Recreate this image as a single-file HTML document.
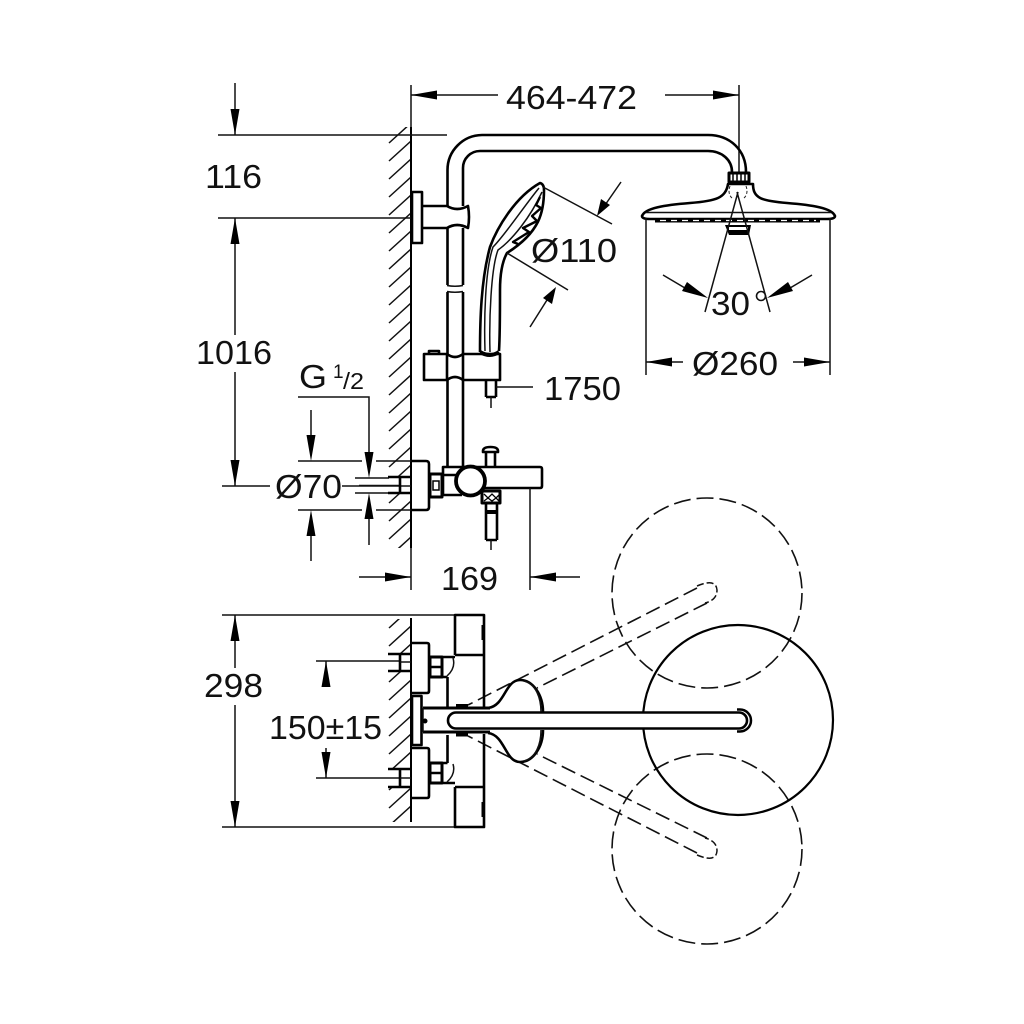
<!DOCTYPE html>
<html><head><meta charset="utf-8"><style>
html,body{margin:0;padding:0;background:#fff}
svg{display:block}
text{font-family:"Liberation Sans",sans-serif;font-size:33px;fill:#111}
.k{fill:none;stroke:#000;stroke-width:2.6;stroke-linejoin:round}
.t{fill:none;stroke:#111;stroke-width:1.5}
.d{fill:none;stroke:#111;stroke-width:1.6;stroke-dasharray:15 6}
.c{fill:none;stroke:#111;stroke-width:1.6;stroke-dasharray:17 6}
.w{fill:#fff;stroke:#000;stroke-width:2.6;stroke-linejoin:round}
.a{fill:#000;stroke:none}
</style></head><body>
<svg width="1024" height="1024" viewBox="0 0 1024 1024" xmlns="http://www.w3.org/2000/svg">
<defs>
<clipPath id="c1"><rect x="385" y="127" width="26" height="421"/></clipPath>
<clipPath id="c2"><rect x="385" y="619" width="26" height="203"/></clipPath>
</defs>
<rect width="1024" height="1024" fill="#fff"/>

<!-- wall hatching -->
<path class="t" clip-path="url(#c1)" d="M389 143l22-20M389 161l22-20M389 179l22-20M389 197l22-20M389 215l22-20M389 233l22-20M389 251l22-20M389 269l22-20M389 287l22-20M389 305l22-20M389 323l22-20M389 341l22-20M389 359l22-20M389 377l22-20M389 395l22-20M389 413l22-20M389 431l22-20M389 449l22-20M389 467l22-20M389 485l22-20M389 503l22-20M389 521l22-20M389 539l22-20M389 557l22-20"/>
<path class="t" clip-path="url(#c2)" d="M389 628l22-20M389 646l22-20M389 664l22-20M389 682l22-20M389 700l22-20M389 718l22-20M389 736l22-20M389 754l22-20M389 772l22-20M389 790l22-20M389 808l22-20M389 826l22-20"/>
<rect x="388" y="477" width="23" height="17" fill="#fff"/>
<rect x="388" y="654" width="23" height="17" fill="#fff"/>
<rect x="388" y="769" width="23" height="18" fill="#fff"/>
<path class="k" d="M411 127V548M411 618V822" style="stroke-width:2"/>

<!-- top dims -->
<path class="t" d="M411 85V127M739 85V172M411 95H498M665 95H739"/>
<path class="a" d="M411 95l26-4.500v9zM739 95l-26-4.500v9z"/>
<text x="506" y="109" textLength="131" lengthAdjust="spacingAndGlyphs">464-472</text>

<!-- left dims -->
<path class="t" d="M218 135H447M218 218H411M235 83V135M235 218V335M235 372V486M222 486H270M342 486H411"/>
<path class="a" d="M235 135l-4.500-26h9zM235 218l-4.500 26h9zM235 486l-4.500-26h9z"/>
<text x="205" y="188" textLength="57" lengthAdjust="spacingAndGlyphs">116</text>
<text x="196" y="364" textLength="76" lengthAdjust="spacingAndGlyphs">1016</text>

<!-- riser pipe + arm -->
<path class="k" d="M447.500 206V170A35 35 0 0 1 482 135H708C730 135 746 150 746 172M463 206V168A17 17 0 0 1 480 151H708C722 151 732 160 732 172"/>
<path class="k" d="M447.500 228V285M463 228V285M447.500 292V354M463 292V354M447.500 380V466M463 380V466"/>
<path class="t" d="M447 285.500Q455 287 463 285.500M447 291.500Q455 293 463 291.500"/>

<!-- wall bracket -->
<rect class="k" x="412" y="192" width="10" height="51"/>
<path class="k" d="M422 206H447Q457 212 468 206Q470 217 468 228Q457 222 447 228H422"/>

<!-- hand shower -->
<path class="k" d="M480 352C480 320 481 280 490 247C497 228 515 197 540 183Q544 184 544 190C544 212 540 232 507 253C502 262 500 275 500 290C500 315 500 335 499 351"/>
<path class="t" d="M485 351C484 320 485 270 493 247C505 235 525 205 539 188M490 352C489 320 491 268 498 250C512 240 530 218 542 192"/>
<path class="k" d="M540 197L536 205L541 208L532 216L537 221L523 228L529 232L513 242L518 244" style="stroke-width:2.400"/>
<path class="k" d="M480 352Q490 358 499 352" style="stroke-width:4"/>

<!-- Ø110 -->
<path class="t" d="M543 187L612 224M507 253L568 290M621 182L603 208M530 327L547 300"/>
<path class="a" d="M597 216l4-17 9 6zM556 287l-4 17-9-6z"/>
<text x="531" y="262" textLength="86" lengthAdjust="spacingAndGlyphs">Ø110</text>

<!-- slider -->
<path class="k" d="M424 354H447Q455 360 463 354H500V380H463Q455 374 447 380H424Z"/>
<path class="k" d="M447 354V380M463 354V380M429 354V351H439V354"/>
<path class="k" d="M486 380V397M496 380V397M486 397H496"/>
<path class="t" d="M491 397V408M496 387H533"/>
<text x="544" y="400" textLength="77" lengthAdjust="spacingAndGlyphs">1750</text>

<!-- shower head -->
<path class="k" d="M729 173H749V182H729Z" style="stroke-width:3"/>
<path d="M733 174V181M737 174V181M741 174V181M745 174V181" stroke="#000" stroke-width="1.500" fill="none"/>
<path class="k" d="M728 184C726 198 716 201 690 203C665 205 645 208 642 216Q642 219 650 219H827Q835 219 835 216C832 208 812 205 787 203C761 201 753 198 753 184Z"/>
<path class="t" d="M646 212.500H831"/>
<path d="M655 220.500H820" fill="none" stroke="#000" stroke-width="4"/>
<path d="M660 220.500H816" fill="none" stroke="#fff" stroke-width="1.300" stroke-dasharray="6 5"/>
<path class="a" d="M725 225H751L749 235H729Z"/>
<rect x="729" y="227" width="19" height="3" fill="#fff"/>
<path class="t" d="M738 192L705 312M737 192L770 312M663 275L690 291M812 275L785 291"/>
<path d="M730 186Q727 194 733 199M746 186Q749 194 743 199" fill="none" stroke="#222" stroke-width="1" stroke-dasharray="3 2"/>
<path class="a" d="M708 298l-26-7 5-9zM767 298l26-7-5-9z"/>
<text x="711" y="315" textLength="39" lengthAdjust="spacingAndGlyphs">30</text>
<circle cx="761" cy="296" r="4.500" fill="none" stroke="#111" stroke-width="1.600"/>

<!-- Ø260 -->
<path class="t" d="M646 218V375M830 218V375M646 362H683M793 362H830"/>
<path class="a" d="M646 362l26-4.500v9zM830 362l-26-4.500v9z"/>
<text x="692" y="375" textLength="86" lengthAdjust="spacingAndGlyphs">Ø260</text>

<!-- G 1/2 -->
<text x="299" y="388" textLength="28" lengthAdjust="spacingAndGlyphs">G</text>
<text x="333" y="378" style="font-size:19px">1</text>
<text x="343" y="389" style="font-size:23px" textLength="21" lengthAdjust="spacingAndGlyphs">/2</text>
<path class="t" d="M298 397H369V453M369 518V545M298 461H362M376 461H411M298 510H362M376 510H411M311 410V436M311 535V561M355 478H389M355 493H389M359 485.500H400"/>
<path class="a" d="M369 478l-4.500-26h9zM369 493l-4.500 26h9zM311 461l-4.500-26h9zM311 510l-4.500 26h9z"/>
<text x="275" y="498" textLength="67" lengthAdjust="spacingAndGlyphs">Ø70</text>

<!-- stub & mixer elevation -->
<path class="k" d="M388 477H411M388 493H411M400 477V493"/>
<path class="k" d="M411 461H426Q429 461 429 464V507Q429 510 426 510H411"/>
<path class="k" d="M430 474H442V497H430Z" style="stroke-width:3"/>
<rect x="433" y="481" width="6" height="9" fill="#fff" stroke="#000" stroke-width="1.500"/>
<path class="k" d="M443 475V467H540Q542 467 542 469V486Q542 488 540 488H484M443 475H456M443 495H462M443 475V495"/>
<circle class="w" cx="470.500" cy="481" r="14.500" style="stroke-width:3.800"/>
<path class="k" d="M486 452V467M495 452V467M483 451Q483 447 490.500 447Q498 447 498 451V452H483Z"/>
<rect class="k" x="482" y="491" width="18" height="12" style="stroke-width:3"/>
<path d="M484 494l4 4 4-4 4 4 3-3M484 501l4-3 4 3 4-3 3 3" fill="none" stroke="#000" stroke-width="1.300"/>
<path class="k" d="M486 503V540M497 503V540M486 540H497"/>
<rect x="486" y="510" width="11" height="4" fill="#000"/>
<path class="t" d="M491 540V550"/>

<!-- 169 -->
<path class="t" d="M411 548V590M530 488V590M359 577H411M530 577H580"/>
<path class="a" d="M411 577l-26-4.500v9zM530 577l26-4.500v9z"/>
<text x="441" y="590" textLength="57" lengthAdjust="spacingAndGlyphs">169</text>

<!-- plan view dims -->
<path class="t" d="M222 615H484M222 827H484M235 615V668M235 705V827M316 661H400M316 778H400M326 661V680M326 748V778"/>
<path class="a" d="M235 615l-4.500 26h9zM235 827l-4.500-26h9zM326 661l-4.500 26h9zM326 778l-4.500-26h9z"/>
<text x="204" y="697" textLength="59" lengthAdjust="spacingAndGlyphs">298</text>
<text x="269" y="739" textLength="113" lengthAdjust="spacingAndGlyphs">150±15</text>

<!-- dashed circles -->
<circle class="c" cx="707" cy="593" r="95"/>
<circle class="c" cx="707" cy="849" r="95"/>
<circle cx="738" cy="720" r="95" fill="none" stroke="#000" stroke-width="2.200"/>

<!-- dashed bars -->
<path class="d" d="M697 588L468 705M707 603L537 688M707 838L537 754M697 853L468 736"/>
<path d="M697 586Q716 578 717 590Q717 600 705 603M697 855Q716 863 717 851Q717 841 705 838" fill="none" stroke="#111" stroke-width="1.500" stroke-dasharray="7 3"/>

<!-- plan mixer -->
<path class="k" d="M455 655V615H484V708M455 655H484M455 787H484M484 734V827H455V787M447.500 677V707M447.500 735V763"/>
<path class="k" d="M442 657H455M442 677H447.500M442 783H455M442 763H447.500"/>
<path class="t" d="M453 658Q456 668 447 676M453 764Q456 774 447 782"/>
<path d="M483 625V640M483 802V817" stroke="#000" stroke-width="3" fill="none"/>
<path class="k" d="M411 643H427Q429 643 429 645V691Q429 693 427 693H411M411 748H427Q429 748 429 750V796Q429 798 427 798H411"/>
<rect class="k" x="412" y="696" width="9.500" height="49"/>
<path class="k" d="M430 657H442V677H430Z" style="stroke-width:3"/>
<path class="k" d="M430 763H442V783H430Z" style="stroke-width:3"/>
<path d="M430 667H442M430 773H442" stroke="#000" stroke-width="2.500"/>
<path class="k" d="M388 654H411M388 671H411M400 654V671M388 769H411M388 787H411M400 769V787"/>
<path class="t" d="M400 662H411M400 778H411"/>
<path class="k" d="M423 708H490M423 732H490" style="stroke-width:3"/>
<path class="t" d="M423 708V732"/>
<circle cx="425" cy="721" r="2.500" fill="#000"/>
<path d="M456 706.500H468M456 734H468" stroke="#000" stroke-width="5"/>

<!-- plan hand shower -->
<path class="k" d="M488 708C505 706 505 680 520 680C533 680 543 695 543 712M488 733C505 735 505 762 520 762C533 762 543 747 543 730"/>
<path class="t" d="M524 681C536 684 541 698 541 712M524 761C536 758 541 744 541 730"/>

<!-- plan pipe -->
<path class="w" d="M456 712.500H739A8 8 0 0 1 739 728.500H456A8 8 0 0 1 456 712.500Z"/>
<path d="M737 709.500H740A11 11 0 0 1 740 731.500H737" fill="none" stroke="#000" stroke-width="2.500"/>
</svg>
</body></html>
